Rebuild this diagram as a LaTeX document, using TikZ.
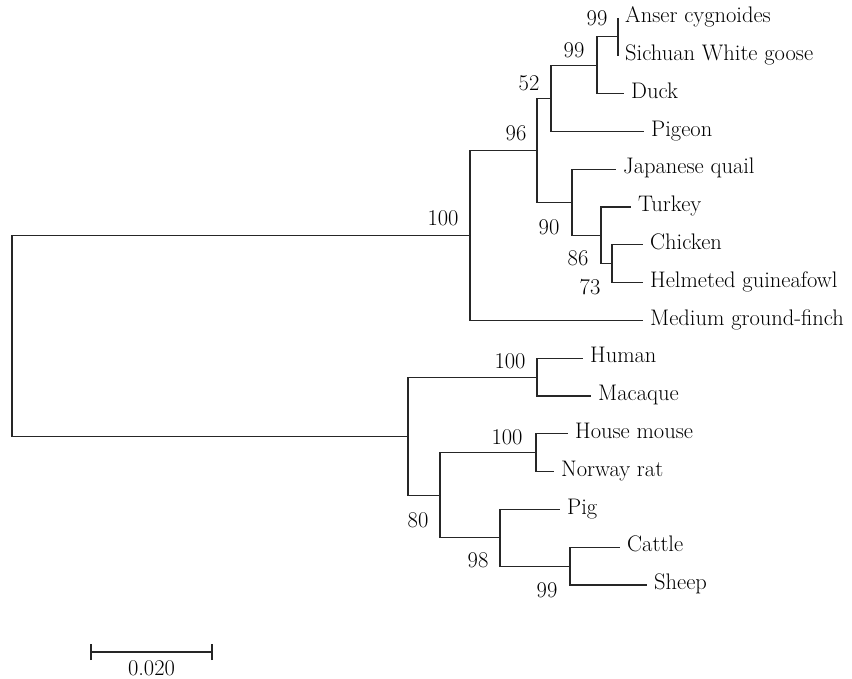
\documentclass[tikz,border=0pt]{standalone}
\usetikzlibrary{positioning}

\tikzset{
    branch/.style={line width=1.2pt, draw=black!85},
    taxon/.style={inner sep=0pt, yshift=-2pt, font=\fontsize{22.5}{26}\selectfont, text height=1.5ex, text depth=.25ex},
    boot/.style={inner sep=0pt, font=\fontsize{22.5}{26}\selectfont}
}

\begin{document}
\begin{tikzpicture}[x=1pt, y=-1pt]
                        \useasboundingbox (0,0) rectangle (852,679);
                        % tips
                        \coordinate (anser) at (618, 18);
                        \coordinate (sichuan) at (618, 55.8);
                        \coordinate (duck) at (624, 93.6);
                        \coordinate (pigeon) at (644, 131.4);
                        \coordinate (quail) at (616, 169.2);
                        \coordinate (turkey) at (631, 207);
                        \coordinate (chicken) at (643, 244.8);
                        \coordinate (guinea) at (643, 282.6);
                        \coordinate (finch) at (643, 320.4);
                        \coordinate (human) at (583, 358.2);
                        \coordinate (macaque) at (591, 396);
                        \coordinate (mouse) at (568, 433.8);
                        \coordinate (rat) at (554, 471.6);
                        \coordinate (pig) at (560, 509.4);
                        \coordinate (cattle) at (620, 547.2);
                        \coordinate (sheep) at (647, 585);
                        % inner nodes
                        \coordinate (n99a) at (618, 36.9);
                        \coordinate (n99b) at (597, 65.25);
                        \coordinate (n52) at (551, 98.3);
                        \coordinate (n73) at (612, 263.7);
                        \coordinate (n86) at (601, 235.35);
                        \coordinate (n90) at (572, 202.3);
                        \coordinate (n96) at (537, 150.3);
                        \coordinate (aves) at (470, 235.35);
                        \coordinate (n100a) at (537, 377.1);
                        \coordinate (n100b) at (536, 452.7);
                        \coordinate (n99c) at (570, 566.1);
                        \coordinate (n98) at (500, 537.75);
                        \coordinate (glires) at (440, 495.2);
                        \coordinate (n80) at (408, 436.2);
                        \coordinate (root) at (12, 335.8);
                        % labels
                        \node[taxon, right=7pt of anser] (anserL) {Anser cygnoides};
                        \node[taxon, right=7pt of sichuan] (sichuanL) {Sichuan White goose};
                        \node[taxon, right=7pt of duck] (duckL) {Duck};
                        \node[taxon, right=7pt of pigeon] (pigeonL) {Pigeon};
                        \node[taxon, right=7pt of quail] (quailL) {Japanese quail};
                        \node[taxon, right=7pt of turkey] (turkeyL) {Turkey};
                        \node[taxon, right=7pt of chicken] (chickenL) {Chicken};
                        \node[taxon, right=7pt of guinea] (guineaL) {Helmeted guineafowl};
                        \node[taxon, right=7pt of finch] (finchL) {Medium ground-finch};
                        \node[taxon, right=7pt of human] (humanL) {Human};
                        \node[taxon, right=7pt of macaque] (macaqueL) {Macaque};
                        \node[taxon, right=7pt of mouse] (mouseL) {House mouse};
                        \node[taxon, right=7pt of rat] (ratL) {Norway rat};
                        \node[taxon, right=7pt of pig] (pigL) {Pig};
                        \node[taxon, right=7pt of cattle] (cattleL) {Cattle};
                        \node[taxon, right=7pt of sheep] (sheepL) {Sheep};
                        % bootstrap values
                        \node[boot] (bAves) at (443, 218) {100};
                        \node[boot] (b96) at (516, 133) {96};
                        \node[boot] (b52) at (529, 83) {52};
                        \node[boot] (b99b) at (574, 50) {99};
                        \node[boot] (b99a) at (597, 18) {99};
                        \node[boot] (b90) at (549, 227) {90};
                        \node[boot] (b86) at (578, 258) {86};
                        \node[boot] (b73) at (590, 287) {73};
                        \node[boot] (b100a) at (510, 361) {100};
                        \node[boot] (b100b) at (507, 437) {100};
                        \node[boot] (b80) at (418, 520) {80};
                        \node[boot] (b98) at (478, 560) {98};
                        \node[boot] (b99c) at (547, 590) {99};
                        \draw[branch]
                        (root) |- (aves)
                        (root) |- (n80)
                        (aves) |- (n96)
                        (aves) |- (finch)
                        (n96) |- (n52)
                        (n96) |- (n90)
                        (n52) |- (n99b)
                        (n52) |- (pigeon)
                        (n99b) |- (n99a)
                        (n99b) |- (duck)
                        (n99a) |- (anser)
                        (n99a) |- (sichuan)
                        (n90) |- (quail)
                        (n90) |- (n86)
                        (n86) |- (turkey)
                        (n86) |- (n73)
                        (n73) |- (chicken)
                        (n73) |- (guinea)
                        (n80) |- (n100a)
                        (n80) |- (glires)
                        (n100a) |- (human)
                        (n100a) |- (macaque)
                        (glires) |- (n100b)
                        (glires) |- (n98)
                        (n100b) |- (mouse)
                        (n100b) |- (rat)
                        (n98) |- (pig)
                        (n98) |- (n99c)
                        (n99c) |- (cattle)
                        (n99c) |- (sheep);
                        % scale bar
                        \coordinate (sbL) at (91, 652);
                        \coordinate (sbR) at (212, 652);
                        \draw[branch] (sbL) -- (sbR)
                        ([yshift=-8pt]sbL) -- ([yshift=8pt]sbL)
                        ([yshift=-8pt]sbR) -- ([yshift=8pt]sbR);
                        \path (sbL) -- (sbR) node[boot, midway, below=8pt] (sbLabel) {0.020};
                    \end{tikzpicture}
\end{document}
